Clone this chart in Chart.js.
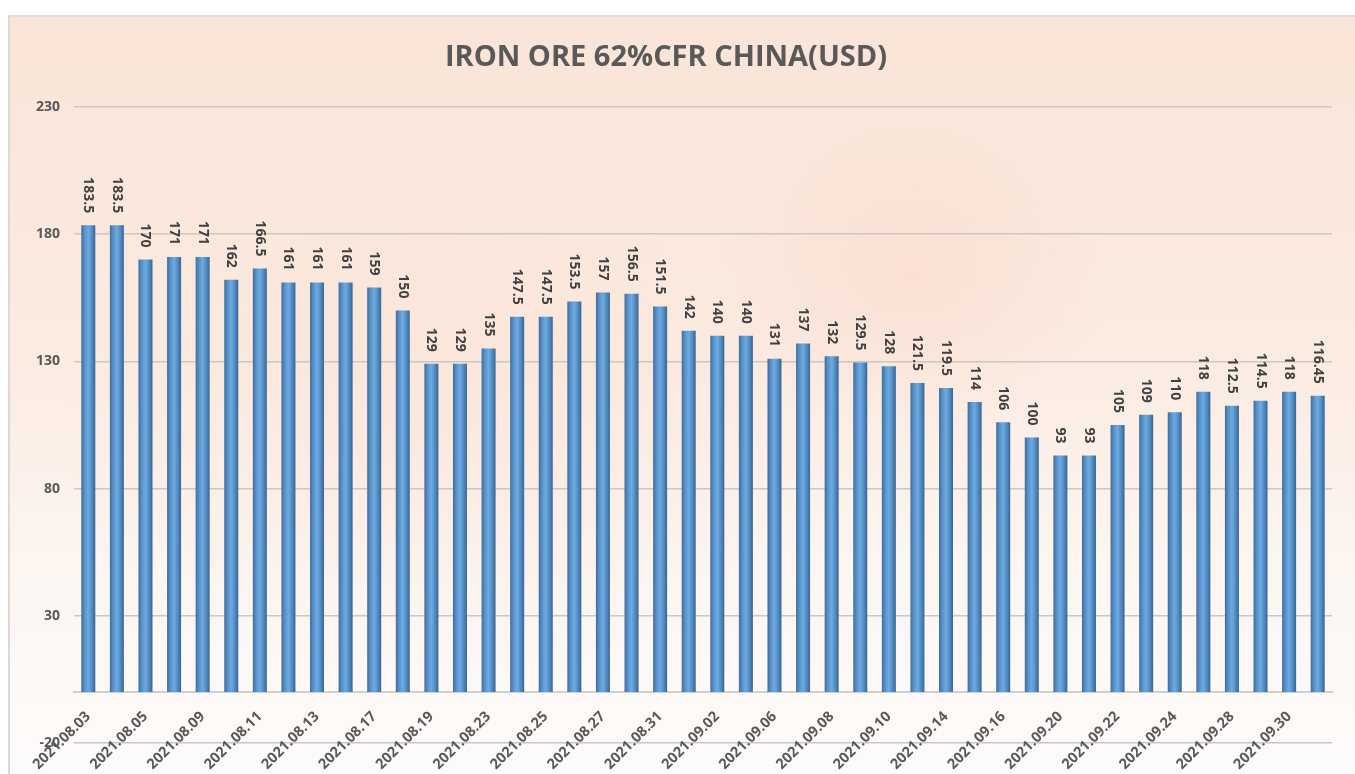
<!DOCTYPE html>
<html>
<head>
<meta charset="utf-8">
<script src="https://cdn.jsdelivr.net/npm/chart.js@4.4.1/dist/chart.umd.min.js"></script>
<style>
  html, body { margin: 0; padding: 0; background: #ffffff; }
  #frame {
    position: absolute; left: 8px; top: 15px; width: 1347px; height: 759px;
    border-left: 2px solid #d9d9d9; border-top: 2px solid #dedede; box-sizing: border-box;
    background:
      radial-gradient(ellipse 200px 160px at 900px 260px, rgba(240,140,110,0.10), rgba(240,140,110,0) 100%),
      radial-gradient(ellipse 380px 260px at 420px 420px, rgba(240,150,120,0.08), rgba(240,150,120,0) 100%),
      linear-gradient(to bottom, #fae4d7 0%, #fbebe1 45%, #fcf6f2 75%, #fdfbfa 100%);
  }
  #wrap { position: absolute; left: 0; top: 0; width: 1355px; height: 774px; }
</style>
</head>
<body>
<div id="frame"></div>
<div id="wrap"><canvas id="grafico"></canvas></div>
<script>
// datas (dias de negociação) e preços
const datas = [
  '2021.08.03', '2021.08.04', '2021.08.05', '2021.08.06', '2021.08.09', '2021.08.10',
  '2021.08.11', '2021.08.12', '2021.08.13', '2021.08.16', '2021.08.17', '2021.08.18',
  '2021.08.19', '2021.08.20', '2021.08.23', '2021.08.24', '2021.08.25', '2021.08.26',
  '2021.08.27', '2021.08.30', '2021.08.31', '2021.09.01', '2021.09.02', '2021.09.03',
  '2021.09.06', '2021.09.07', '2021.09.08', '2021.09.09', '2021.09.10', '2021.09.13',
  '2021.09.14', '2021.09.15', '2021.09.16', '2021.09.17', '2021.09.20', '2021.09.21',
  '2021.09.22', '2021.09.23', '2021.09.24', '2021.09.27', '2021.09.28', '2021.09.29',
  '2021.09.30', '2021.10.01'
];
const precos = [
  183.5, 183.5, 170, 171, 171, 162, 166.5, 161, 161, 161, 159, 150,
  129, 129, 135, 147.5, 147.5, 153.5, 157, 156.5, 151.5, 142, 140, 140,
  131, 137, 132, 129.5, 128, 121.5, 119.5, 114, 106, 100, 93, 93,
  105, 109, 110, 118, 112.5, 114.5, 118, 116.45
];
const eixoY = { min: -20, max: 230, passo: 50 };
const titulo = 'IRON ORE 62%CFR CHINA(USD)';

// gradiente horizontal para cada barra (efeito cilindro)
function corBarra(context) {
  const chart = context.chart;
  const escala = chart.scales.x;
  if (!escala || context.dataIndex === undefined) return '#5b9bd5';
  const x = escala.getPixelForValue(context.dataIndex);
  if (!isFinite(x)) return '#5b9bd5';
  const meia = 7;
  const g = chart.ctx.createLinearGradient(x - meia, 0, x + meia, 0);
  g.addColorStop(0, '#3e6d9e');
  g.addColorStop(0.25, '#5a93cc');
  g.addColorStop(0.5, '#6eaae0');
  g.addColorStop(0.75, '#528cc4');
  g.addColorStop(1, '#3a6590');
  return g;
}

// rótulos verticais acima das barras
const rotulos = {
  id: 'rotulos',
  afterDatasetsDraw(chart) {
    const ctx = chart.ctx;
    const meta = chart.getDatasetMeta(0);
    ctx.save();
    ctx.font = 'bold 14px "Open Sans", sans-serif';
    ctx.fillStyle = '#404040';
    ctx.textAlign = 'right';
    ctx.textBaseline = 'middle';
    meta.data.forEach((el, i) => {
      ctx.save();
      ctx.translate(el.x, el.y - 12);
      ctx.rotate(Math.PI / 2);
      ctx.fillText(String(precos[i]), 0, 0);
      ctx.restore();
    });
    ctx.restore();
  }
};

function inicializarGrafico() {
  const ctx = document.getElementById('grafico').getContext('2d');
  const grafico = new Chart(ctx, {
    type: 'bar',
    data: {
      labels: datas,
      datasets: [{
        label: 'Preço',
        data: precos,
        backgroundColor: corBarra,
        borderWidth: 0,
        barPercentage: 0.98,
        categoryPercentage: 0.5
      }]
    },
    options: {
      responsive: true,
      maintainAspectRatio: false,
      animation: false,
      layout: { padding: { left: 0, right: 23, bottom: 31, top: 0 } },
      plugins: {
        legend: { display: false },
        tooltip: { enabled: false },
        title: {
          display: true,
          text: titulo,
          color: '#595959',
          font: { family: '"Open Sans", sans-serif', size: 29, weight: 700, lineHeight: 1.2 },
          padding: { top: 40, bottom: 32 }
        }
      },
      scales: {
        x: {
          position: { y: 0 },
          grid: { display: false },
          border: { display: true, color: '#d0d0d0', width: 2 },
          ticks: {
            autoSkip: false,
            minRotation: 45,
            maxRotation: 45,
            color: '#595959',
            font: { family: '"Open Sans", sans-serif', size: 14.5, weight: 700 },
            padding: 8,
            callback: function (valor, indice) {
              return indice % 2 === 0 ? datas[indice] : '';
            }
          }
        },
        y: {
          min: eixoY.min,
          max: eixoY.max,
          afterFit(escala) { escala.width = 74; },
          border: { display: false },
          grid: { color: '#c8c8c8', lineWidth: 1.5, drawTicks: false },
          ticks: {
            stepSize: eixoY.passo,
            padding: 14,
            color: '#595959',
            font: { family: '"Open Sans", sans-serif', size: 14, weight: 700 }
          }
        }
      }
    },
    plugins: [rotulos]
  });
  grafico.update();
}

window.onload = inicializarGrafico;
</script>
</body>
</html>
